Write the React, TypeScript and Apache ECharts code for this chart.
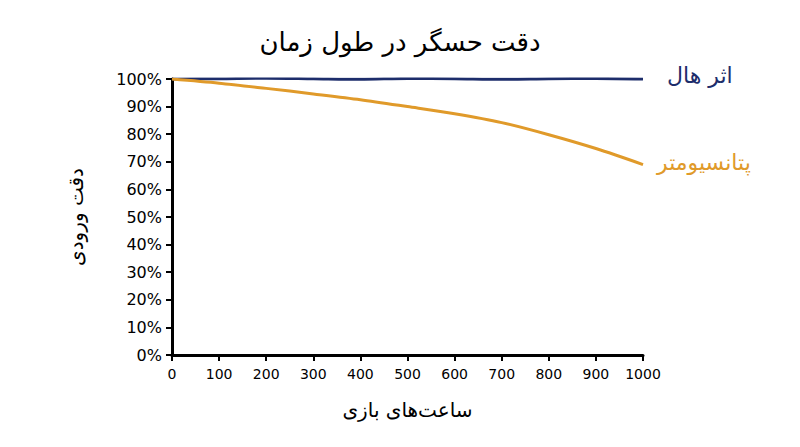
import React, { useEffect, useRef } from 'react';
import * as echarts from 'echarts';

// hours of play
const hours = [0, 100, 200, 300, 400, 500, 600, 700, 800, 900, 1000];
// input accuracy in %
const hallValues = [100, 100.1, 100.3, 100.1, 99.9, 100.2, 100.1, 99.9, 100.1, 100.2, 100];
const potValues = [100, 98.5, 96.6, 94.6, 92.5, 90, 87.4, 84.2, 79.8, 74.8, 69];
const seriesNames = ['اثر هال', 'پتانسیومتر'];
const seriesColors = ['#1d2d6b', '#e09a2a'];

const App: React.FC = () => {
  const chartRef = useRef<HTMLDivElement>(null);

  useEffect(() => {
    const chart = echarts.init(chartRef.current!, null, { renderer: 'svg' });
    const font = 'DejaVu Sans';

    const options = {
      animation: false,
      backgroundColor: '#ffffff',
      title: {
        text: 'دقت حسگر در طول زمان',
        left: 'center',
        top: 16,
        textStyle: { fontFamily: font, fontSize: 26, fontWeight: 'normal', color: '#000' },
      },
      grid: { left: 164, right: 149, top: 71, bottom: 84 },
      xAxis: {
        type: 'value',
        min: 0,
        max: 1000,
        interval: 100,
        name: 'ساعت‌های بازی',
        nameLocation: 'middle',
        nameGap: 45,
        nameTextStyle: { fontFamily: font, fontSize: 20, color: '#000' },
        axisLine: { show: true, lineStyle: { color: '#000', width: 3 } },
        axisTick: { show: true, length: 6, lineStyle: { color: '#000', width: 2 } },
        axisLabel: { fontFamily: font, fontSize: 14, color: '#000', margin: 12, formatter: (v: number) => String(v) },
        splitLine: { show: false },
      },
      yAxis: {
        type: 'value',
        min: 0,
        max: 100,
        interval: 10,
        name: 'دقت ورودی',
        nameLocation: 'middle',
        nameGap: 86,
        nameTextStyle: { fontFamily: font, fontSize: 20, color: '#000' },
        axisLine: { show: true, lineStyle: { color: '#000', width: 3 } },
        axisTick: { show: true, length: 6, lineStyle: { color: '#000', width: 2 } },
        axisLabel: { fontFamily: font, fontSize: 16, color: '#000', margin: 10, formatter: '{value}%' },
        splitLine: { show: false },
      },
      series: [hallValues, potValues].map((vals, i) => ({
        name: seriesNames[i],
        type: 'line',
        data: hours.map((h, j) => [h, vals[j]]),
        smooth: 0.3,
        symbol: 'none',
        lineStyle: { color: seriesColors[i], width: 3 },
        endLabel: {
          show: true,
          formatter: seriesNames[i],
          color: seriesColors[i],
          fontFamily: font,
          fontSize: 22,
          distance: i === 0 ? 24 : 14,
          offset: i === 0 ? [0, -4] : [0, -2],
        },
      })),
    };

    chart.setOption(options);

    return () => {
      chart.dispose();
    };
  }, []);

  return <div ref={chartRef} style={{ width: '784px', height: '431px' }} />;
};

export default App;
